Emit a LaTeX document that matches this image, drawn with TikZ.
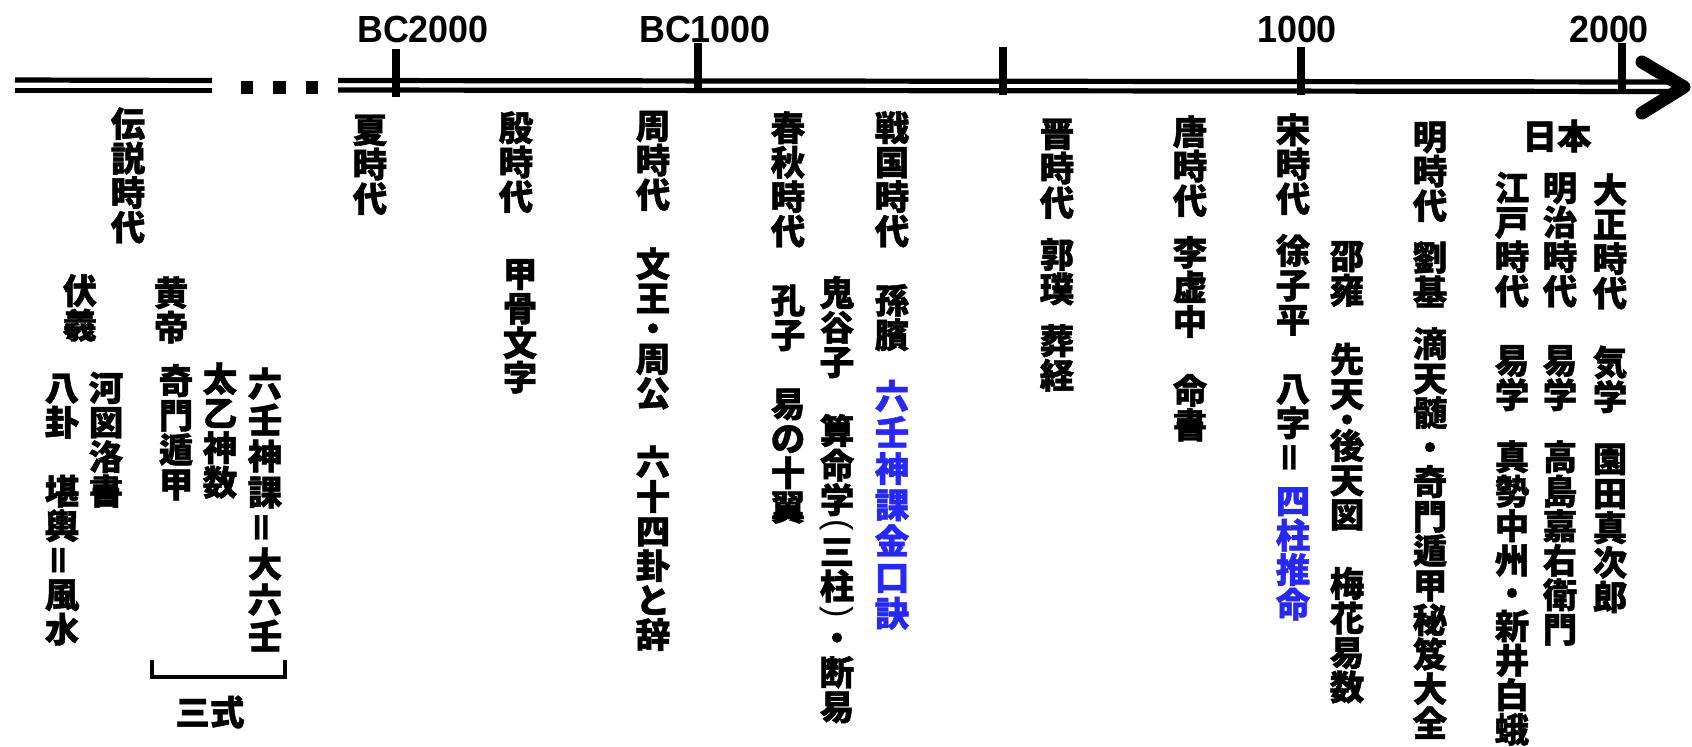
\documentclass[tikz,border=0pt]{standalone}
\usepackage{fontspec}
\usepackage{graphicx}
\newfontfamily\jp{Noto Sans CJK JP}[BoldFeatures={FakeBold=1.2}]
\newfontfamily\lat{Liberation Sans}[FakeStretch=0.95]
\definecolor{jblue}{RGB}{40,40,245}
\newlength\vp
\setlength\vp{17.25pt}
\makeatletter
\def\vdotc{・}\def\vlpc{（}\def\vrpc{）}\def\veqc{＝}
\def\vhsc{-}\def\vfsc{S}\def\vssc{s}
\newcommand\vbx[2]{\hbox to\vp{\hss\vbox to #1\vp{\vss\hbox{#2}\vss}\hss}}
\newcommand\vchr[1]{\vrule width0pt height.88\vp depth.12\vp\relax#1}
\newcommand\vcol[2][.65]{\vbox{\offinterlineskip\def\vdotf{#1}\@tfor\vc:=#2\do{\vcell}}}
\newcommand\vcell{%
 \ifx\vc\vdotc \vbx{\vdotf}{\raisebox{-.38\vp}[0pt][0pt]{・}}%
 \else\ifx\vc\vlpc \vbx{.5}{\rotatebox{-90}{\lat\mdseries\fontsize{18}{18}\selectfont(}}%
 \else\ifx\vc\vrpc \vbx{.5}{\rotatebox{-90}{\lat\mdseries\fontsize{18}{18}\selectfont)}}%
 \else\ifx\vc\veqc \vbx{1}{\rotatebox{90}{＝}}%
 \else\ifx\vc\vhsc \vbx{.5}{}%
 \else\ifx\vc\vfsc \vbx{1}{}%
 \else\ifx\vc\vssc \vbx{.8}{}%
 \else \vbx{1}{\vchr{\vc}}\fi\fi\fi\fi\fi\fi\fi}
\makeatother
\tikzset{
  vt/.style={anchor=north, inner sep=0pt, font=\jp\bfseries\fontsize{17.25}{17.25}\selectfont},
  ht/.style={inner sep=0pt, font=\jp\bfseries\fontsize{17.25}{17.25}\selectfont},
  lab/.style={anchor=base, inner sep=0pt, font=\lat\bfseries\fontsize{18.9}{20}\selectfont},
  rail/.style={line width=2.6pt},
  tickmark/.style={line width=4pt},
  brk/.style={line width=2.4pt},
}
\begin{document}
\begin{tikzpicture}[x=0.5pt,y=-0.5pt]
\fill[white] (0,0) rectangle (1692,746);
\useasboundingbox (0,0) rectangle (1692,746);
% timeline
\draw[rail] (15,80) -- (212,80.5);
\draw[rail] (15,90.5) -- (212,90.5);
\foreach \i/\xx in {1/247,2/279.5,3/312}{\fill (\xx-6.25,81.25) rectangle (\xx+6.25,93.75);}
\draw[rail] (338,80.5) -- (1676,82);
\draw[rail] (338,90) -- (1676,91.5);
\draw[tickmark] (396,49) -- (396,97);
\draw[tickmark] (698,43) -- (698,89);
\draw[tickmark] (1003,47) -- (1003,95);
\draw[tickmark] (1301,47) -- (1301,95);
\draw[tickmark] (1622,43) -- (1622,92);
\coordinate (arrA) at (1642,62);
\coordinate (arrT) at (1684,87);
\coordinate (arrB) at (1642,113);
\draw[line width=6.5pt, line cap=round, line join=round] (arrA) -- (arrT) -- (arrB);
\node[lab] (bc2000) at (423,42) {BC2000};
\node[lab] (bc1000) at (705,42) {BC1000};
\node[lab] (ad1000) at (1297,42) {1000};
\node[lab] (ad2000) at (1609,42) {2000};
% legendary
\node[vt] (densetsu) at (128,106) {\vcol{伝説時代}};
\node[vt] (fukki) at (80,273) {\vcol{伏羲}};
\node[vt] (hakke) at (62,370) {\vcol{八卦S堪輿＝風水}};
\node[vt] (kato) at (106,370) {\vcol{河図洛書}};
\node[vt] (kotei) at (171,275) {\vcol{黄帝}};
\node[vt] (kimon) at (176,363) {\vcol{奇門遁甲}};
\node[vt] (taiitsu) at (220,361) {\vcol{太乙神数}};
\node[vt] (rikujin) at (265,365) {\setlength\vp{18pt}\vcol{六壬神課＝大六壬}};
\draw[brk] (152,660) -- (152,677) -- (285,677) -- (285,660);
\node[ht] (sanshiki) at (210,712) {三式};
% dynasties
\node[vt] (ka) at (370,112) {\vcol{夏時代}};
\node[vt] (in) at (516,110) {\vcol{殷時代}};
\node[vt] (koukotsu) at (520,256) {\vcol{甲骨文字}};
\node[vt] (shu) at (653,108) {\vcol[.75]{周時代S文王・周公S六十四卦と辞}};
\node[vt] (shunju) at (788,110) {\vcol{春秋時代S孔子S易の十翼}};
\node[vt] (kikoku) at (837,275) {\vcol[1]{鬼谷子S算命学（三柱）・断易}};
\node[vt] (sengoku) at (892,110) {\vcol{戦国時代S孫臏}};
\node[vt, text=jblue] (kinkou) at (892,377) {\setlength\vp{18.1pt}\vcol{六壬神課金口訣}};
\node[vt] (shin) at (1057,116) {\vcol{晋時代-郭璞-葬経}};
\node[vt] (tou) at (1190,114) {\vcol{唐時代-李虚中S命書}};
\node[vt] (sou) at (1293,112) {\vcol{宋時代-徐子平S八字＝}};
\node[vt, text=jblue] (shichu) at (1293,483) {\vcol{四柱推命}};
\node[vt] (shouyou) at (1347,238) {\vcol[.5]{邵雍S先天・後天図S梅花易数}};
\node[vt] (min) at (1430,119) {\vcol[1]{明時代-劉基-滴天髄・奇門遁甲秘笈大全}};
\node[ht] (nihon) at (1557,136) {日本};
\node[vt] (edo) at (1512,170) {\vcol[.9]{江戸時代S易学s真勢中州・新井白蛾}};
\node[vt] (meiji) at (1560,170) {\vcol{明治時代S易学s高島嘉右衛門}};
\node[vt] (taisho) at (1610,172) {\vcol{大正時代S気学s園田真次郎}};
\end{tikzpicture}
\end{document}
